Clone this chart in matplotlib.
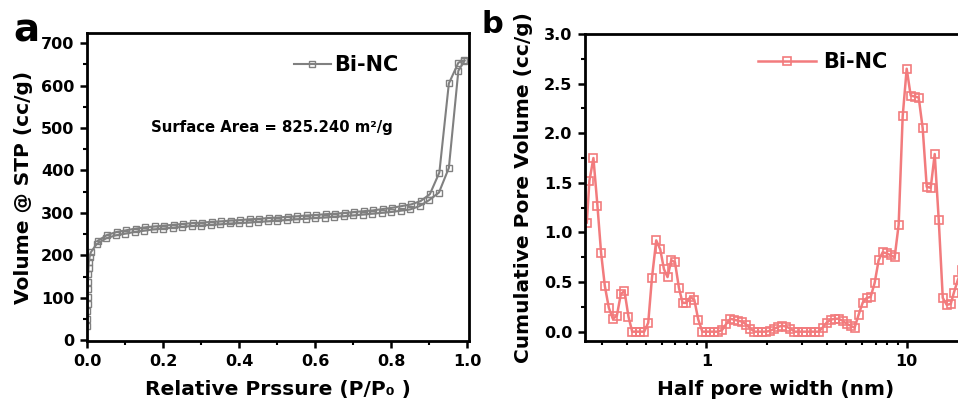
import matplotlib
matplotlib.use("Agg")
import matplotlib.pyplot as plt
from matplotlib.ticker import MultipleLocator, LogLocator, NullFormatter, FixedLocator, FixedFormatter

plt.rcParams['font.family'] = ['DejaVu Sans']
plt.rcParams['font.weight'] = 'bold'

# ---------------- Panel a data: N2 isotherm ----------------
ads_p = [0.0008, 0.001, 0.0012, 0.0015, 0.0018, 0.002, 0.0025, 0.003, 0.004, 0.005,
         0.007, 0.01, 0.025, 0.05, 0.075, 0.1, 0.125, 0.15, 0.175, 0.2, 0.225, 0.25,
         0.275, 0.3, 0.325, 0.35, 0.375, 0.4, 0.425, 0.45, 0.475, 0.5, 0.525, 0.55,
         0.575, 0.6, 0.625, 0.65, 0.675, 0.7, 0.725, 0.75, 0.775, 0.8, 0.825, 0.85,
         0.875, 0.9, 0.926, 0.952, 0.977, 0.993]
ads_v = [33, 50, 68, 85, 102, 120, 137, 155, 170, 185,
         197, 207, 226, 240, 247, 251, 255, 258, 261, 263, 265, 267,
         269, 270, 272, 273, 275, 276, 277, 279, 280, 282, 283, 285,
         286, 288, 289, 291, 292, 294, 296, 298, 300, 302, 305, 308,
         316, 330, 348, 406, 635, 658]
des_p = [0.993, 0.977, 0.952, 0.927, 0.902, 0.878, 0.853, 0.828, 0.803, 0.778, 0.753,
         0.728, 0.703, 0.678, 0.653, 0.628, 0.603, 0.578, 0.553, 0.528, 0.503, 0.478,
         0.453, 0.428, 0.403, 0.378, 0.353, 0.328, 0.303, 0.278, 0.253, 0.228, 0.203,
         0.178, 0.153, 0.128, 0.103, 0.078, 0.053, 0.028]
des_v = [660, 654, 605, 395, 344, 328, 320, 316, 312, 309, 306,
         304, 302, 300, 298, 297, 295, 294, 292, 291, 289, 288,
         286, 285, 283, 282, 280, 279, 277, 276, 274, 272, 270,
         268, 266, 263, 259, 255, 248, 234]

# ---------------- Panel b data: pore distribution ----------------
width_nm = [0.2532, 0.2609, 0.2732, 0.2861, 0.2985, 0.3115, 0.3262, 0.3415, 0.3576, 0.3745,
            0.3904, 0.4088, 0.4266, 0.4467, 0.4677, 0.4898, 0.5129, 0.5352, 0.5623, 0.5888,
            0.6145, 0.6405, 0.6683, 0.6974, 0.7302, 0.7611, 0.7943, 0.8318, 0.871, 0.912,
            0.955, 1.0, 1.047, 1.096, 1.148, 1.202, 1.259, 1.318, 1.380, 1.445,
            1.514, 1.585, 1.660, 1.738, 1.820, 1.905, 1.995, 2.089, 2.188, 2.291,
            2.399, 2.512, 2.630, 2.754, 2.884, 3.020, 3.162, 3.311, 3.467, 3.631,
            3.802, 3.981, 4.169, 4.365, 4.571, 4.786, 5.012, 5.248, 5.495, 5.754,
            6.026, 6.310, 6.607, 6.918, 7.244, 7.586, 7.943, 8.318, 8.710, 9.120,
            9.550, 10.0, 10.47, 10.96, 11.48, 12.02, 12.59, 13.18, 13.80, 14.45,
            15.14, 15.85, 16.60, 17.18, 17.99, 18.84]
pore_vol = [1.10, 1.52, 1.75, 1.27, 0.79, 0.46, 0.24, 0.13, 0.16, 0.38,
            0.41, 0.15, 0.0, 0.0, 0.0, 0.0, 0.09, 0.54, 0.92, 0.83,
            0.63, 0.55, 0.72, 0.70, 0.44, 0.29, 0.29, 0.35, 0.32, 0.12,
            0.0, 0.0, 0.0, 0.0, 0.0, 0.02, 0.08, 0.13, 0.12, 0.11,
            0.10, 0.07, 0.03, 0.0, 0.0, 0.0, 0.0, 0.01, 0.03, 0.05,
            0.06, 0.05, 0.03, 0.0, 0.0, 0.0, 0.0, 0.0, 0.0, 0.0,
            0.04, 0.09, 0.12, 0.13, 0.13, 0.11, 0.08, 0.06, 0.04, 0.17,
            0.29, 0.34, 0.35, 0.49, 0.72, 0.80, 0.79, 0.77, 0.75, 1.08,
            2.17, 2.65, 2.38, 2.37, 2.36, 2.05, 1.46, 1.45, 1.79, 1.13,
            0.34, 0.27, 0.28, 0.39, 0.52, 0.62]

series_label = "Bi-NC"
gray = "#808080"
red = "#F27B7D"

W, H = 958, 403
fig = plt.figure(figsize=(W / 100, H / 100), dpi=100)

def frac(x0, y0, x1, y1):
    return [x0 / W, 1 - y1 / H, (x1 - x0) / W, (y1 - y0) / H]

# ---------------- Panel a ----------------
ax1 = fig.add_axes(frac(87, 33, 469, 341))
ax1.plot(ads_p, ads_v, color=gray, lw=1.5, marker='s', ms=5, mfc='none',
         mec=gray, mew=1.0, label=series_label)
ax1.plot(des_p, des_v, color=gray, lw=1.5, marker='s', ms=5, mfc='none',
         mec=gray, mew=1.0)
ax1.set_xlim(0, 1.005)
ax1.set_ylim(-2, 724)
ax1.xaxis.set_major_locator(MultipleLocator(0.2))
ax1.xaxis.set_minor_locator(MultipleLocator(0.1))
ax1.yaxis.set_major_locator(MultipleLocator(100))
ax1.yaxis.set_minor_locator(MultipleLocator(50))
ax1.xaxis.set_major_formatter(matplotlib.ticker.FormatStrFormatter('%.1f'))
ax1.set_xlabel("Relative Prssure (P/P\u2080 )", fontsize=14.5, fontweight='bold', labelpad=8)
ax1.set_ylabel("Volume @ STP (cc/g)", fontsize=14.5, fontweight='bold', labelpad=6)
ax1.text(0.168, 0.677, "Surface Area = 825.240 m\u00b2/g", transform=ax1.transAxes,
         fontsize=10.7, fontweight='bold')
leg1 = ax1.legend(loc='center left', bbox_to_anchor=(0.542, 0.896), frameon=False,
                  fontsize=15, handlelength=1.75, handletextpad=0.15, borderpad=0,
                  borderaxespad=0)
fig.text(13 / W, 1 - 42 / H, "a", fontsize=28, fontweight='bold')

# ---------------- Panel b ----------------
ax2 = fig.add_axes(frac(585, 34, 967, 341))
ax2.plot(width_nm, pore_vol, color=red, lw=1.8, marker='s', ms=5.5, mfc='none',
         mec=red, mew=1.2, label=series_label)
ax2.set_xscale('log')
ax2.set_xlim(0.248, 20)
ax2.set_ylim(-0.094, 3.0)
ax2.xaxis.set_major_locator(FixedLocator([1, 10]))
ax2.xaxis.set_major_formatter(FixedFormatter(["1", "10"]))
ax2.xaxis.set_minor_locator(LogLocator(base=10, subs=range(2, 10), numticks=20))
ax2.xaxis.set_minor_formatter(NullFormatter())
ax2.yaxis.set_major_locator(MultipleLocator(0.5))
ax2.yaxis.set_minor_locator(MultipleLocator(0.25))
ax2.yaxis.set_major_formatter(matplotlib.ticker.FormatStrFormatter('%.1f'))
ax2.set_xlabel("Half pore width (nm)", fontsize=14.5, fontweight='bold', labelpad=8)
ax2.set_ylabel("Cumulative Pore Volume (cc/g)", fontsize=14.5, fontweight='bold', labelpad=8)
leg2 = ax2.legend(loc='center left', bbox_to_anchor=(0.453, 0.909), frameon=False,
                  fontsize=15, handlelength=2.8, handletextpad=0.33, borderpad=0,
                  borderaxespad=0)
fig.text(481 / W, 1 - 33 / H, "b", fontsize=22, fontweight='bold')

for ax in (ax1, ax2):
    for s in ax.spines.values():
        s.set_linewidth(2.0)
    ax.tick_params(which='major', direction='out', length=5, width=1.8,
                   labelsize=11.5, pad=4, top=False, right=False)
    ax.tick_params(which='minor', direction='out', length=3, width=1.5,
                   top=False, right=False)
    for lab in ax.get_xticklabels() + ax.get_yticklabels():
        lab.set_fontweight('bold')

fig.savefig("out.png", dpi=100)
